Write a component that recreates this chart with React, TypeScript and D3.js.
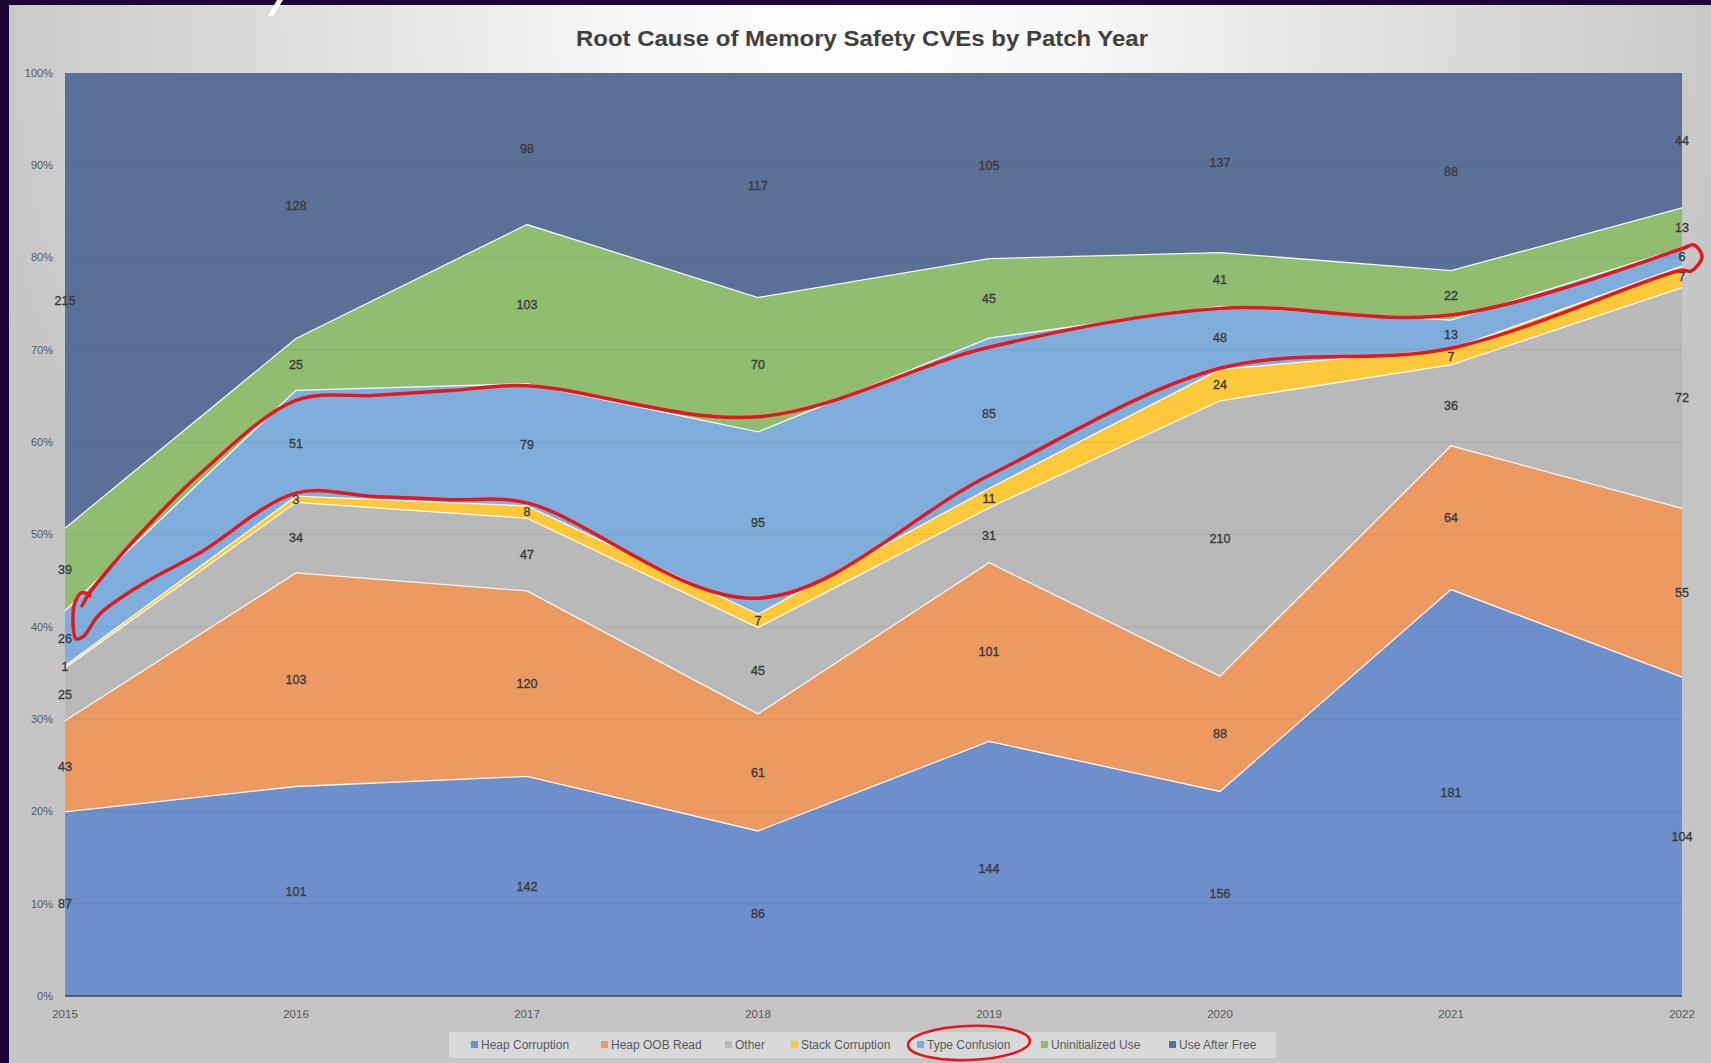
import React from 'react'
import * as d3 from 'd3'

const years = [2015, 2016, 2017, 2018, 2019, 2020, 2021, 2022]
const seriesNames = ['Heap Corruption', 'Heap OOB Read', 'Other', 'Stack Corruption', 'Type Confusion', 'Uninitialized Use', 'Use After Free']
const heapCorruption = [87, 101, 142, 86, 144, 156, 181, 104]
const heapOobRead = [43, 103, 120, 61, 101, 88, 64, 55]
const other = [25, 34, 47, 45, 31, 210, 36, 72]
const stackCorruption = [1, 3, 8, 7, 11, 24, 7, 7]
const typeConfusion = [26, 51, 79, 95, 85, 48, 13, 6]
const uninitializedUse = [39, 25, 103, 70, 45, 41, 22, 13]
const useAfterFree = [215, 128, 98, 117, 105, 137, 88, 44]
const seriesValues = [heapCorruption, heapOobRead, other, stackCorruption, typeConfusion, uninitializedUse, useAfterFree]
const seriesColors = ['#6d8fcb', '#ec9a62', '#b9b9b9', '#fdc93a', '#7faedc', '#91bd70', '#5a7097']
const yTicks = [0, 0.1, 0.2, 0.3, 0.4, 0.5, 0.6, 0.7, 0.8, 0.9, 1]
const legendX = [471, 601, 725, 791, 917, 1041, 1169]

const W = 1711
const H = 1063
const plot = { left: 65, right: 1682, top: 73, bottom: 996 }

// hand-drawn highlight offsets (px) along the type confusion band
const upperNudge = [0, 10, 2, -15, 9, 2, -5, 1]
const lowerNudge = [0, -3, -3, -16, -13, -1, -1, 4]

export default function App() {
  const rows = years.map((yr, i) => {
    const r: any = { year: yr }
    seriesNames.forEach((s, k) => { r[s] = seriesValues[k][i] })
    return r
  })
  const layers = d3.stack<any>().keys(seriesNames).offset(d3.stackOffsetExpand)(rows)

  const x = d3.scaleLinear().domain([2015, 2022]).range([plot.left, plot.right])
  const y = d3.scaleLinear().domain([0, 1]).range([plot.bottom, plot.top])

  const area = d3.area<any>()
    .x(d => x(d.data.year))
    .y0(d => y(d[0]))
    .y1(d => y(d[1]))
  const edge = d3.line<any>()
    .x(d => x(d.data.year))
    .y(d => y(d[1]))

  // red annotation around Type Confusion
  const tc = layers[4]
  const st = layers[3]
  const ax = x(2015)
  const ay = y(tc[0][1])
  const withMid = (p: number[][]) => {
    // flatten the 2016-2017 stretch so the spline doesn't bulge
    const out: number[][] = []
    p.forEach((q, i) => {
      out.push(q)
      if (i === 0) {
        const n = p[1]
        out.push([q[0] + (n[0] - q[0]) / 3, q[1] + (n[1] - q[1]) / 3])
        out.push([q[0] + (n[0] - q[0]) * 2 / 3, q[1] + (n[1] - q[1]) * 2 / 3])
      }
    })
    return out
  }
  const upper = withMid(years.slice(1).map((yr, i) => [x(yr), y(tc[i + 1][1]) + upperNudge[i + 1]]))
  const lower = withMid(years.slice(1).map((yr, i) => [x(yr), y(st[i + 1][1]) + lowerNudge[i + 1]])).reverse()
  const x22 = x(2022)
  const yU = y(tc[7][1])
  const yL = y(st[7][1])
  const pts: [number, number][] = [
    [ax + 17, ay - 5], [ax + 24, ay - 17], [ax + 45, ay - 43], [ax + 78, ay - 80], [ax + 135, ay - 137],
    ...(upper as [number, number][]),
    [x22 + 12, yU - 3], [x22 + 20, (yU + yL) / 2], [x22 + 9, yL + 5],
    ...(lower as [number, number][]),
    [ax + 135, ay - 58], [ax + 78, ay - 27], [ax + 35, ay + 3], [ax + 18, ay + 26], [ax + 11, ay + 28],
    [ax + 8, ay + 12], [ax + 10, ay - 8], [ax + 17, ay - 18], [ax + 25, ay - 15],
  ]
  const redPath = d3.line().curve(d3.curveCatmullRom.alpha(0.5))(pts)

  const legendTc = legendX[4]

  return (
    <svg width={W} height={H} style={{ position: 'absolute', left: 0, top: 0, display: 'block' }}
      fontFamily="'Liberation Sans', Arial, sans-serif">
      <defs>
        <radialGradient id="bg" gradientUnits="userSpaceOnUse" cx={855} cy={20} r={900}>
          <stop offset="0" stopColor="#ffffff" />
          <stop offset="0.25" stopColor="#f7f7f7" />
          <stop offset="1" stopColor="#c5c5c5" />
        </radialGradient>
      </defs>
      <rect x={0} y={0} width={W} height={H} fill="url(#bg)" />
      <rect x={0} y={0} width={9} height={H} fill="#1b0535" />
      <rect x={0} y={0} width={W} height={5} fill="#1b0535" />
      <polygon points="277,0 283,0 273,16 268,16" fill="#ffffff" />

      <text x={862} y={46} textAnchor="middle" fontSize={22} fontWeight="bold" fill="#404040"
        textLength={572} lengthAdjust="spacingAndGlyphs">
        Root Cause of Memory Safety CVEs by Patch Year
      </text>

      {layers.map((layer, k) => (
        <path key={seriesNames[k]} d={area(layer) || ''} fill={seriesColors[k]} />
      ))}
      {yTicks.slice(1, -1).map(t => (
        <line key={t} x1={plot.left} x2={plot.right} y1={y(t)} y2={y(t)} stroke="#303030" strokeOpacity={0.09} />
      ))}
      {layers.slice(0, -1).map((layer, k) => (
        <path key={'e' + k} d={edge(layer) || ''} fill="none" stroke="#ffffff" strokeWidth={1.3} strokeOpacity={0.9} />
      ))}
      <line x1={plot.left} x2={plot.right} y1={plot.bottom} y2={plot.bottom} stroke="#3d4656" strokeWidth={1.5} />

      {yTicks.map(t => (
        <text key={'yt' + t} x={53} y={y(t)} dy="0.35em" textAnchor="end" fontSize={11} fill="#595959">
          {Math.round(t * 100) + '%'}
        </text>
      ))}
      {years.map(yr => (
        <text key={'xt' + yr} x={x(yr)} y={1014} dy="0.35em" textAnchor="middle" fontSize={11.5} fill="#595959">
          {yr}
        </text>
      ))}

      {layers.map((layer, k) => layer.map((d: any, i: number) => (
        <text key={'l' + k + '-' + i} x={x(d.data.year)} y={y((d[0] + d[1]) / 2)} dy="0.35em" textAnchor="middle"
          fontSize={12.5} fill="#3a3a3a" stroke="#3a3a3a" strokeWidth={0.35}>
          {seriesValues[k][i]}
        </text>
      )))}

      <path d={redPath || ''} fill="none" stroke="#e3171e" strokeWidth={3.5} strokeLinejoin="round" strokeLinecap="round" />

      <rect x={449} y={1032} width={827} height={26} fill="#ffffff" fillOpacity={0.35} />
      {seriesNames.map((s, k) => (
        <g key={'lg' + s}>
          <rect x={legendX[k]} y={1041} width={7} height={7} fill={seriesColors[k]} />
          <text x={legendX[k] + 10} y={1045} dy="0.35em" fontSize={12} fill="#595959">{s}</text>
        </g>
      ))}
      <ellipse cx={legendTc + 52} cy={1043} rx={61} ry={17} fill="none" stroke="#e3171e" strokeWidth={2.5}
        transform={`rotate(-2 ${legendTc + 52} 1043)`} />
    </svg>
  )
}
